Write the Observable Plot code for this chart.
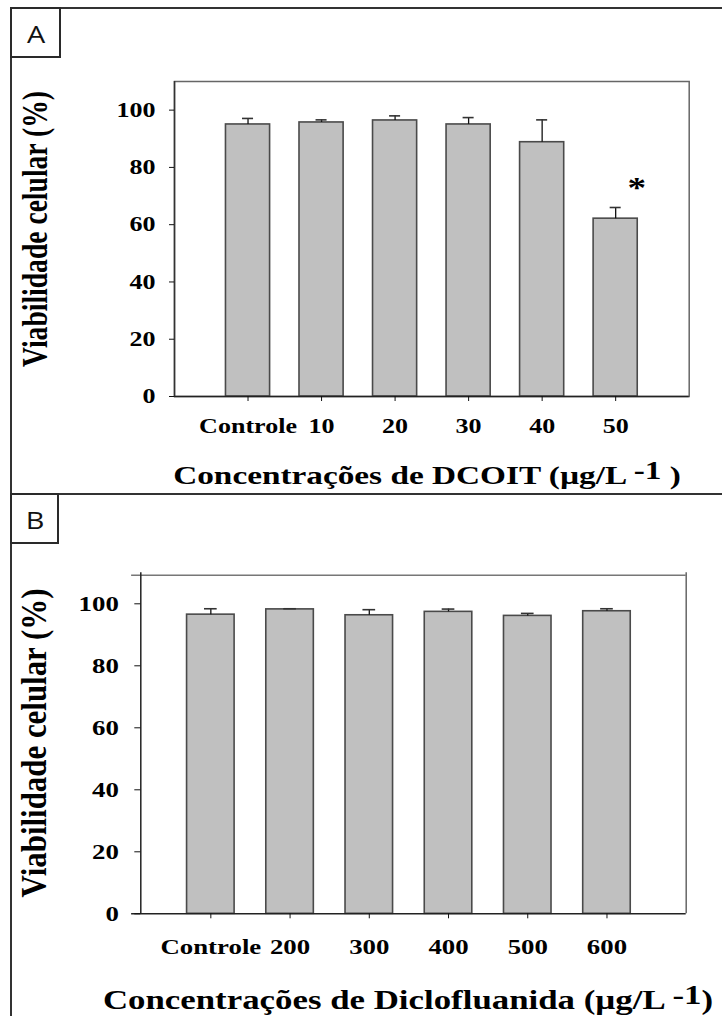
<!DOCTYPE html>
<html><head><meta charset="utf-8">
<script src="https://cdn.jsdelivr.net/npm/d3@7"></script>
<script src="https://cdn.jsdelivr.net/npm/@observablehq/plot@0.6"></script>
<style>
html,body{margin:0;padding:0;background:#fff;}
#root{position:relative;width:722px;height:1016px;overflow:hidden;background:#fff;}
.line{position:absolute;background:#333;}
.box{position:absolute;border:2px solid #2a2a2a;box-sizing:border-box;}
.lab{position:absolute;font-family:'Open Sans',sans-serif;font-size:24px;line-height:24px;white-space:nowrap;color:#111;transform-origin:50% 50%;}
.serif{position:absolute;font-family:'Liberation Serif','Times New Roman',serif;font-weight:bold;white-space:nowrap;color:#000;transform-origin:50% 50%;}
.sup{position:relative;top:-5px;}
.plot{position:absolute;left:0;}
</style></head>
<body><div id="root">
  <div class="line" style="left:10px;top:7px;width:2px;height:1009px;"></div>
  <div class="line" style="left:10px;top:7px;width:712px;height:2px;"></div>
  <div class="line" style="left:10px;top:493px;width:712px;height:2px;"></div>
  <div class="box" style="left:10px;top:7px;width:51px;height:51px;"></div>
  <div class="box" style="left:10px;top:493px;width:49px;height:51px;"></div>
  <div class="lab" style="left:35.5px;top:22px;transform:translateX(-50%) scaleX(1.2);">A</div>
  <div class="lab" style="left:35.3px;top:508px;transform:translateX(-50%) scaleX(1.2);">B</div>
  <div id="plotA" class="plot" style="top:0px;"></div>
  <div id="plotB" class="plot" style="top:494px;"></div>
  <div class="serif" id="ytA" style="left:34.8px;top:229px;font-size:27.6px;line-height:27.6px;transform:translate(-50%,-50%) rotate(-90deg) scale(1,1.3);">Viabilidade celular (%)</div>
  <div class="serif" id="ytB" style="left:34.7px;top:742.5px;font-size:30.9px;line-height:30.9px;transform:translate(-50%,-50%) rotate(-90deg) scale(1,1.15);">Viabilidade celular (%)</div>
  <div class="serif" id="xtA" style="left:426.5px;top:463.2px;font-size:26px;line-height:26px;transform:translateX(-50%) scaleX(1.28);">Concentrações de DCOIT (µg/L <span class="sup">-1</span> )</div>
  <div class="serif" id="xtB" style="left:408px;top:987.4px;font-size:27px;line-height:27px;transform:translateX(-50%) scaleX(1.29);">Concentrações de Diclofluanida (µg/L <span class="sup">-1</span>)</div>
</div>
<script>
// Panel A – DCOIT
const catsA = ["Controle", "10", "20", "30", "40", "50"];
const meanA = [95.0, 95.7, 96.4, 95.0, 88.8, 62.1];
const errA  = [2.1, 0.9, 1.6, 2.4, 7.8, 3.9];
const sigA  = ["", "", "", "", "", "*"];
// Panel B – Diclofluanida
const catsB = ["Controle", "200", "300", "400", "500", "600"];
const meanB = [96.5, 98.2, 96.3, 97.4, 96.1, 97.6];
const errB  = [1.9, 0.2, 1.8, 0.9, 0.8, 0.8];
const sigB  = ["", "", "", "", "", ""];
const yTicks = [0, 20, 40, 60, 80, 100];

function rows(cats, mean, err, sig) {
  return cats.map((c, i) => ({cat: c, pos: i + 1, mean: mean[i], err: err[i], sig: sig[i]}));
}

function stretchText(svg, sx) {
  svg.querySelectorAll("text").forEach(t => {
    const tr = t.getAttribute("transform") || "";
    t.setAttribute("transform", tr + ` scale(${sx},1)`);
  });
}

const font = "'Liberation Serif','Times New Roman',serif";

// ---------- Panel A ----------
{
  const data = rows(catsA, meanA, errA, sigA);
  const cap = 0.075;
  const svg = Plot.plot({
    width: 722, height: 440,
    marginLeft: 174, marginRight: 33.3, marginTop: 81, marginBottom: 44,
    style: {fontFamily: font, fontSize: "21px", fontWeight: "bold", color: "#111", background: "transparent", overflow: "visible"},
    x: {domain: [0, 7], label: null},
    y: {domain: [0, 110], label: null},
    marks: [
      Plot.frame({stroke: "#666", strokeWidth: 1.5}),
      Plot.rectY(data, {x1: d => d.pos - 0.3, x2: d => d.pos + 0.3, y1: 0, y2: "mean", fill: "#c0c0c0", stroke: "#4a4a4a", strokeWidth: 1.6}),
      Plot.ruleX(data, {x: "pos", y1: "mean", y2: d => d.mean + d.err, stroke: "#111", strokeWidth: 1.3}),
      Plot.ruleY(data, {y: d => d.mean + d.err, x1: d => d.pos - cap, x2: d => d.pos + cap, stroke: "#333", strokeWidth: 1.6}),
      Plot.ruleY([0], {stroke: "#222", strokeWidth: 1.6}),
      Plot.ruleX([0], {stroke: "#333", strokeWidth: 1.5}),
      Plot.text(data.filter(d => d.sig), {x: "pos", y: d => d.mean + d.err, text: "sig", dx: 21, dy: -20, fontSize: 30, fontWeight: "bold", fill: "#000"}),
      Plot.axisY(yTicks, {tickSize: 5, tickPadding: 14, label: null, fill: "#000"}),
      Plot.axisX(data.map(d => d.pos), {tickSize: 5, tickPadding: 17, label: null, fill: "#000", tickFormat: p => catsA[p - 1]})
    ]
  });
  stretchText(svg, 1.24);
  document.getElementById("plotA").appendChild(svg);
}

// ---------- Panel B ----------
{
  const data = rows(catsB, meanB, errB, sigB);
  const cap = 0.08;
  const x0 = 0.116, x1 = 7, xFrameLeft = 0, yTop = 109.2;
  const svg = Plot.plot({
    width: 722, height: 470,
    marginLeft: 140.3, marginRight: 36.3, marginTop: 78.3, marginBottom: 50.7,
    style: {fontFamily: font, fontSize: "22px", fontWeight: "bold", color: "#111", background: "transparent", overflow: "visible"},
    x: {domain: [x0, x1], label: null},
    y: {domain: [0, 110], label: null},
    marks: [
      Plot.ruleY([yTop], {x1: xFrameLeft, x2: x1, stroke: "#777", strokeWidth: 1.5}),
      Plot.ruleX([x1], {y1: 0, y2: 110, stroke: "#666", strokeWidth: 1.5}),
      Plot.rectY(data, {x1: d => d.pos - 0.3, x2: d => d.pos + 0.3, y1: 0, y2: "mean", fill: "#c0c0c0", stroke: "#4a4a4a", strokeWidth: 1.6}),
      Plot.ruleX(data, {x: "pos", y1: "mean", y2: d => d.mean + d.err, stroke: "#111", strokeWidth: 1.3}),
      Plot.ruleY(data, {y: d => d.mean + d.err, x1: d => d.pos - cap, x2: d => d.pos + cap, stroke: "#333", strokeWidth: 1.6}),
      Plot.ruleY([0], {x1: xFrameLeft, x2: x1, stroke: "#222", strokeWidth: 1.6}),
      Plot.ruleX([x0], {y1: 0, y2: 110, stroke: "#222", strokeWidth: 1.5}),
      Plot.axisY(yTicks, {tickSize: 6, tickPadding: 16, label: null, fill: "#000"}),
      Plot.axisX(data.map(d => d.pos), {tickSize: 5, tickPadding: 19.4, label: null, fill: "#000", tickFormat: p => catsB[p - 1]})
    ]
  });
  stretchText(svg, 1.22);
  document.getElementById("plotB").appendChild(svg);
}
</script>
</body></html>
